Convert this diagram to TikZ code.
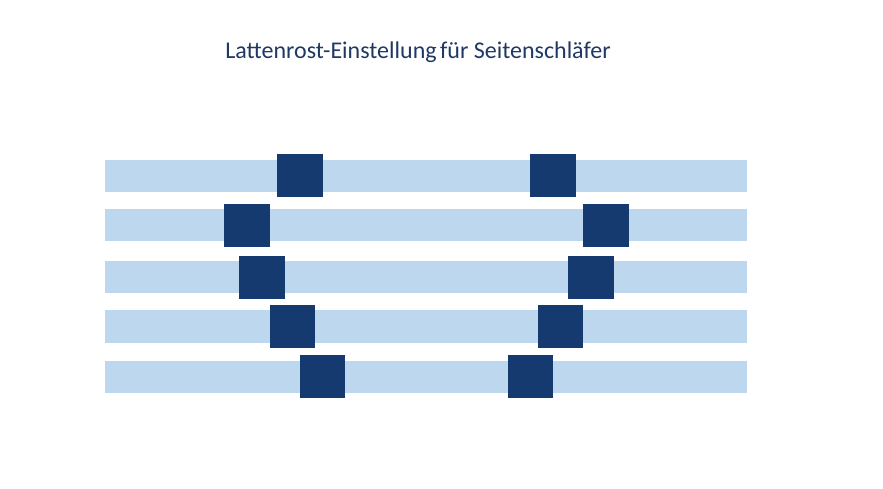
\documentclass[tikz,border=0pt]{standalone}
\usepackage{fontspec}
\setmainfont{Carlito}
\definecolor{barblue}{RGB}{189,215,238}
\definecolor{darkblue}{RGB}{20,58,112}
\definecolor{titleblue}{RGB}{31,56,100}
\begin{document}
\begin{tikzpicture}[x=1pt,y=-1pt,
  bar/.style={fill=barblue},
  block/.style={fill=darkblue}]
\useasboundingbox (0,0) rectangle (883,488);
\node[text=titleblue,font=\fontsize{24}{28}\selectfont,anchor=base] (title) at (418,58) {Lattenrost-Einstellung\hspace{-2pt} für Seitenschläfer};
% bars
\foreach \t/\b in {160/192,209/241,261/293,310/343,361/393}
  \fill[bar] (105,\t) rectangle (747,\b);
% blocks
\foreach \l/\t/\w in {277/154/46,224/204/46,239/256/46,270/305/45,300/355/45}
  \fill[block] (\l,\t) rectangle ++(\w,43);
\foreach \l/\t/\w in {530/154/46,583/204/46,568/256/46,538/305/45,508/355/45}
  \fill[block] (\l,\t) rectangle ++(\w,43);
\end{tikzpicture}
\end{document}
